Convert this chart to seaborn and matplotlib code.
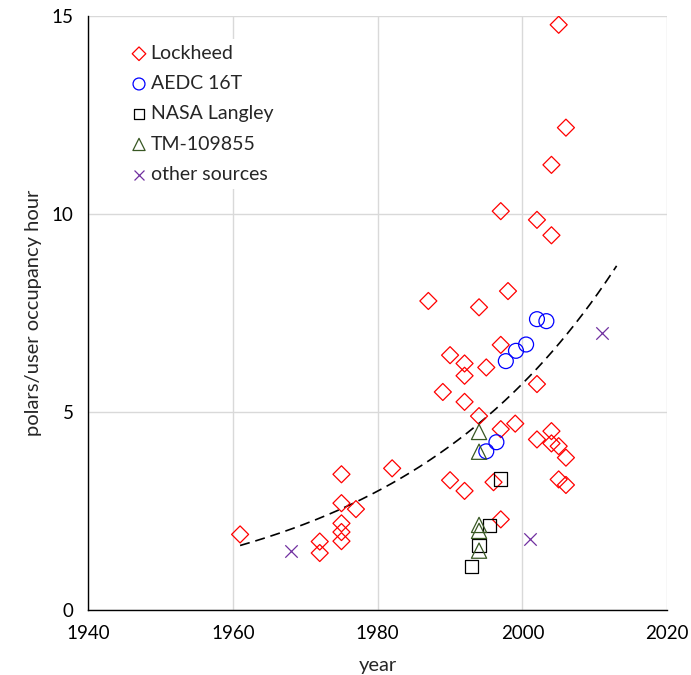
import numpy as np
import pandas as pd
import matplotlib
matplotlib.use("Agg")
import matplotlib.pyplot as plt
import seaborn as sns

# ---- data ----
lockheed_year = [1961, 1972, 1972, 1975, 1975, 1975, 1975, 1975, 1977, 1982,
                 1987, 1989, 1990, 1990, 1992, 1992, 1992, 1992, 1994, 1994,
                 1995, 1996, 1997, 1997, 1997, 1997, 1998, 1999, 2002, 2002,
                 2002, 2004, 2004, 2004, 2004, 2005, 2005, 2005, 2006, 2006, 2006]
lockheed_val = [1.91, 1.73, 1.44, 3.43, 2.70, 2.19, 1.97, 1.74, 2.55, 3.58,
                7.81, 5.51, 6.44, 3.28, 6.23, 5.92, 5.26, 3.01, 7.65, 4.90,
                6.13, 3.23, 10.08, 6.70, 4.57, 2.29, 8.06, 4.71, 9.86, 5.71,
                4.31, 11.25, 9.47, 4.52, 4.21, 14.79, 4.14, 3.30, 12.19, 3.85, 3.16]

aedc_year = [1995, 1996.4, 1997.7, 1999.1, 2000.5, 2002, 2003.3]
aedc_val = [4.01, 4.24, 6.29, 6.55, 6.71, 7.35, 7.30]

nasa_year = [1993, 1994, 1995.4, 1997]
nasa_val = [1.09, 1.63, 2.13, 3.31]

tm_year = [1994, 1994, 1994, 1994, 1994]
tm_val = [4.50, 4.00, 2.15, 2.00, 1.50]

other_year = [1968, 2001, 2011]
other_val = [1.50, 1.79, 7.01]

# exponential trend line
trend_years = [1961, 2013]
trend_a = 1.63      # value at 1961
trend_rate = 0.0322  # per year

x_ticks = [1940, 1960, 1980, 2000, 2020]
y_ticks = [0, 5, 10, 15]

sns.set_theme(style="white")
plt.rcParams['font.family'] = ['Lato', 'DejaVu Sans']

fig = plt.figure(figsize=(6.91, 6.75), dpi=100)
ax = fig.add_axes([0.1274, 0.0963, 0.9657 - 0.1274, 0.9756 - 0.0963])

ax.set_xlim(1940, 2020)
ax.set_ylim(0, 15)
ax.set_xticks(x_ticks)
ax.set_yticks(y_ticks)
ax.grid(True, color="#d9d9d9", linewidth=1.0)
ax.set_axisbelow(True)

lw = 0.9
sns.scatterplot(x=lockheed_year, y=lockheed_val, ax=ax, marker="D", s=75,
                facecolors="none", edgecolor="#ff0000", linewidth=lw,
                label="Lockheed", zorder=3)
sns.scatterplot(x=aedc_year, y=aedc_val, ax=ax, marker="o", s=115,
                facecolors="none", edgecolor="#0000ff", linewidth=lw,
                label="AEDC 16T", zorder=3)
sns.scatterplot(x=nasa_year, y=nasa_val, ax=ax, marker="s", s=90,
                facecolors="none", edgecolor="#000000", linewidth=lw,
                label="NASA Langley", zorder=3)
sns.scatterplot(x=tm_year, y=tm_val, ax=ax, marker="^", s=120,
                facecolors="none", edgecolor="#385723", linewidth=lw,
                label="TM-109855", zorder=3)
sns.scatterplot(x=other_year, y=other_val, ax=ax, marker="x", s=80,
                color="#7030a0", linewidth=lw,
                label="other sources", zorder=3)

tx = np.linspace(trend_years[0], trend_years[1], 200)
ty = trend_a * np.exp(trend_rate * (tx - trend_years[0]))
trend_df = pd.DataFrame({"year": tx, "val": ty})
sns.lineplot(data=trend_df, x="year", y="val", ax=ax, color="black",
             linewidth=1.2, linestyle=(0, (6, 3.5)), zorder=2, legend=False)

for side in ["top", "right"]:
    ax.spines[side].set_visible(False)
for side in ["left", "bottom"]:
    ax.spines[side].set_color("black")
    ax.spines[side].set_linewidth(1.0)

ax.tick_params(axis="both", direction="in", length=4, width=1.0,
               labelsize=13.5, colors="black", pad=10.5)
ax.set_xlabel("year", fontsize=14.5, labelpad=11)
ax.set_ylabel("polars/user occupancy hour", fontsize=14.5, labelpad=7)

leg = ax.legend(loc="upper left", bbox_to_anchor=(0.0645, 0.962), fontsize=14,
                frameon=True, framealpha=1, edgecolor="none", fancybox=False,
                handletextpad=0.2, handlelength=0.8, labelspacing=0.68,
                borderpad=0.3, borderaxespad=0, markerscale=0.8)
leg.get_frame().set_facecolor("white")

fig.savefig("out.png", dpi=100)
